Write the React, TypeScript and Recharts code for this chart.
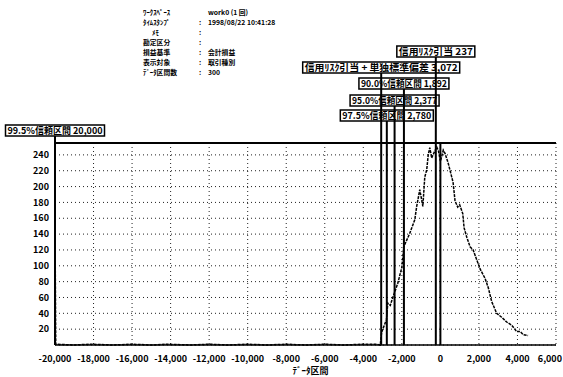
import { LineChart, Line, XAxis, YAxis, CartesianGrid, ReferenceLine } from 'recharts'

const FONT = "'Noto Sans CJK JP', 'Noto Sans', sans-serif"

// データ区間 (bin centre) and counts
const binX = [
  -20000, -19960, -19000, -18200, -17000, -16000, -15000, -14200, -13000, -12000,
  -11000, -10000, -9000, -8000, -7000, -6000, -5000, -4000, -3300, -3120,
  -3050, -2800, -2730, -2600, -2470, -2210, -2000, -1900, -1590, -1330,
  -1230, -1070, -910, -810, -710, -630, -550, -450, -380, -190,
  -100, 0, 70, 150, 240, 400, 590, 660, 760, 900,
  1000, 1160, 1230, 1370, 1540, 1700, 1880, 2060, 2320, 2490,
  2660, 2920, 3180, 3440, 3700, 3960, 4140, 4300, 4550,
]
const counts = [
  150, 1, 0, 1, 0, 1, 0, 1, 0, 1,
  0, 1, 0, 1, 0, 1, 0, 1, 1, 0,
  16, 32, 53, 50, 60, 78, 98, 124, 141, 158,
  175, 196, 175, 212, 221, 240, 249, 236, 240, 250,
  245, 232, 238, 246, 242, 230, 212, 205, 182, 174,
  177, 166, 148, 136, 124, 120, 108, 96, 84, 72,
  55, 40, 35, 29, 25, 17, 17, 13, 12,
]

const xTicks = [-20000, -18000, -16000, -14000, -12000, -10000, -8000, -6000, -4000, -2000, 0, 2000, 4000, 6000]
const yTicks = [20, 40, 60, 80, 100, 120, 140, 160, 180, 200, 220, 240]

const markerValues = [-20000, -2780, -2377, -1892, -3072, -237, 0]
const markerLabels = [
  '99.5%信頼区間 20,000',
  '97.5%信頼区間 2,780',
  '95.0%信頼区間 2,377',
  '90.0%信頼区間 1,892',
  '信用ﾘｽｸ引当 + 単独標準偏差 3,072',
  '信用ﾘｽｸ引当 237',
  '',
]

const headerKeys = ['ﾜｰｸｽﾍﾟｰｽ', 'ﾀｲﾑｽﾀﾝﾌﾟ', 'ﾒﾓ', '勘定区分', '損益基準', '表示対象', 'ﾃﾞｰﾀ区間数']
const headerValues = ['work0 (1 回)', '1998/08/22 10:41:28', '', '', '会計損益', '取引種別', '300']

// label box placement (pixels), same order as markerValues
const boxStyle = [
  { top: 125, w: 99 },
  { top: 110, w: 93 },
  { top: 95, w: 89 },
  { top: 78, w: 90 },
  { top: 62, w: 157 },
  { top: 46, w: 78 },
  null,
]
const headerBase = [15, 25, 35, 45, 55, 65, 75]

const data = binX.map((x, i) => ({ x, count: counts[i] }))

const fmt = (v: number) => (v === 0 ? '0' : v.toLocaleString('en-US'))

function XTick(props: any) {
  const { x, y, payload } = props
  const last = payload.value === xTicks[xTicks.length - 1]
  return (
    <text
      x={last ? 562 : x}
      y={y + 9}
      textAnchor={last ? 'end' : 'middle'}
      fontSize={9}
      fontWeight={700}
      fontFamily={FONT}
      fill="#000"
    >
      {fmt(payload.value)}
    </text>
  )
}

function MarkerShape(props: any) {
  const { x1, y1, y2, box, text } = props
  const bottom = Math.max(y1, y2)
  const top = box ? box.top + 11 : Math.min(y1, y2)
  return (
    <g>
      <line x1={x1} x2={x1} y1={top} y2={bottom} stroke="#000" strokeWidth={2} />
      {box && (
        <g>
          <rect x={x1 - box.w / 2} y={box.top} width={box.w} height={11} fill="#fff" stroke="#000" strokeWidth={1.5} />
          <text
            x={x1 - box.w / 2 + 2}
            y={box.top + 9}
            fontSize={9.5}
            fontWeight={700}
            fontFamily={FONT}
            fill="#000"
            textLength={box.w - 4}
            lengthAdjust="spacingAndGlyphs"
          >
            {text}
          </text>
        </g>
      )}
    </g>
  )
}

export default function App() {
  return (
    <div style={{ position: 'absolute', left: 0, top: 0, width: 563, height: 377, background: '#fff', fontFamily: FONT }}>
      <svg width={563} height={80} style={{ position: 'absolute', left: 0, top: 0 }}>
        {headerKeys.map((k, i) => (
          <g key={k} fontSize={6.8} fontWeight={700} fontFamily={FONT} fill="#000">
            <text x={i === 2 ? 152 : 143} y={headerBase[i]}>{k}</text>
            {i > 0 && <text x={199} y={headerBase[i]}>:</text>}
            <text x={208} y={headerBase[i]}>{headerValues[i]}</text>
          </g>
        ))}
      </svg>
      <LineChart width={563} height={377} data={data} margin={{ top: 143, right: 7, left: 0, bottom: 0 }}>
        <CartesianGrid stroke="#222" strokeDasharray="1 3" />
        <XAxis
          dataKey="x"
          type="number"
          domain={[-20000, 6000]}
          ticks={xTicks}
          height={32}
          axisLine={{ stroke: '#000', strokeWidth: 1.5 }}
          tickLine={false}
          tick={<XTick />}
          interval={0}
          label={{ value: 'ﾃﾞｰﾀ区間', position: 'insideBottom', offset: 3, dx: 5, fontSize: 9, fontWeight: 700, fill: '#000', fontFamily: FONT }}
        />
        <YAxis
          type="number"
          domain={[0, 255]}
          ticks={yTicks}
          width={55}
          tickSize={4}
          axisLine={{ stroke: '#000', strokeWidth: 2 }}
          tickLine={false}
          tick={{ fill: '#000', fontSize: 9, fontWeight: 700, fontFamily: FONT }}
          interval={0}
        />
        <ReferenceLine y={255} stroke="#000" strokeWidth={2} />
        <Line
          type="linear"
          dataKey="count"
          stroke="#000"
          strokeWidth={1.5}
          strokeDasharray="3 1"
          dot={false}
          isAnimationActive={false}
        />
        {markerValues.map((v, i) => (
          <ReferenceLine
            key={i}
            x={v}
            ifOverflow="visible"
            shape={(p: any) => <MarkerShape {...p} box={boxStyle[i]} text={markerLabels[i]} />}
          />
        ))}
      </LineChart>
    </div>
  )
}
